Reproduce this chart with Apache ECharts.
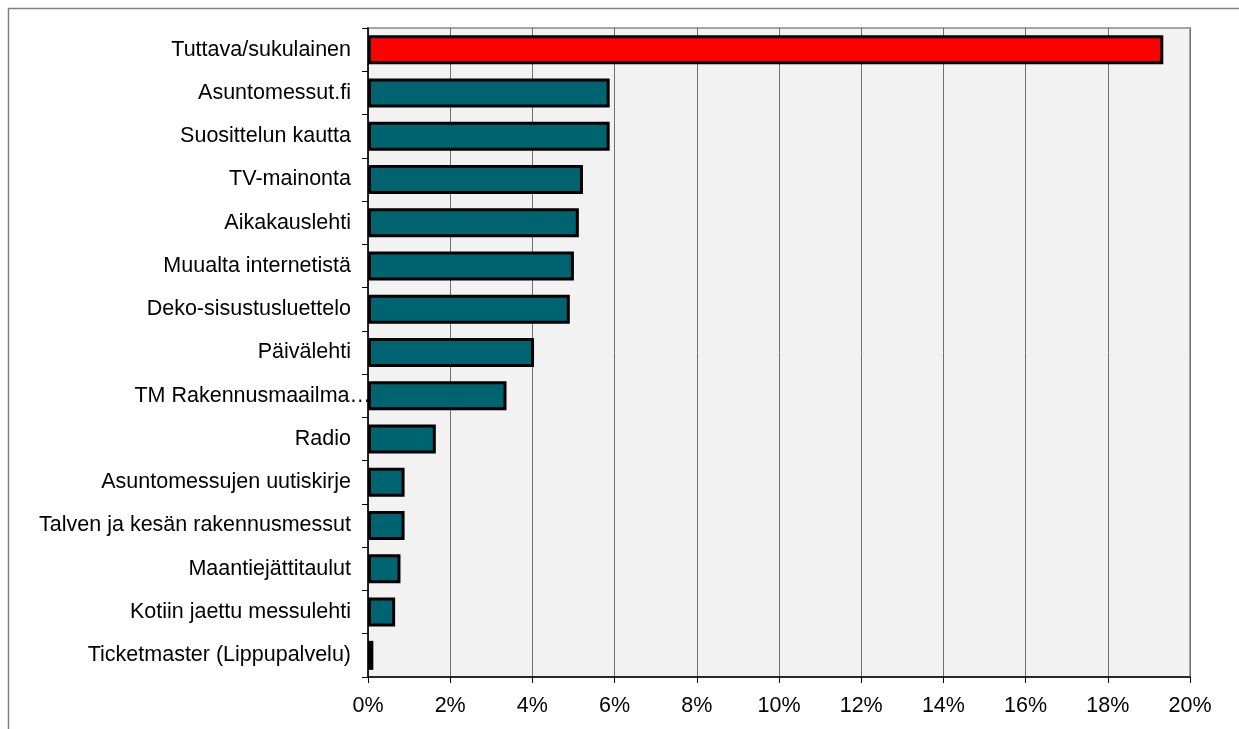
<!DOCTYPE html>
<html>
<head>
<meta charset="utf-8">
<script src="https://cdn.jsdelivr.net/npm/echarts@6/dist/echarts.min.js"></script>
<style>
  html, body { margin: 0; padding: 0; background: #fff; }
  #chart { width: 1239px; height: 729px; }
</style>
</head>
<body>
<div id="chart"></div>
<script>
// kategoriat ylhäältä alas
const categories = [
    'Tuttava/sukulainen',
    'Asuntomessut.fi',
    'Suosittelun kautta',
    'TV-mainonta',
    'Aikakauslehti',
    'Muualta internetistä',
    'Deko-sisustusluettelo',
    'Päivälehti',
    'TM Rakennusmaailma…',
    'Radio',
    'Asuntomessujen uutiskirje',
    'Talven ja kesän rakennusmessut',
    'Maantiejättitaulut',
    'Kotiin jaettu messulehti',
    'Ticketmaster (Lippupalvelu)'
];

// osuudet prosentteina
const shares = [19.35, 5.88, 5.88, 5.23, 5.13, 5.01, 4.91, 4.04, 3.37, 1.65, 0.89, 0.89, 0.79, 0.66, 0.13];

const xTicks = { min: 0, max: 20, interval: 2 };

const highlightIndex = 0;
// tämä otsikko valuu alkuperäisessä akselin yli
const overflowIndex = 8;

const myChart = echarts.init(document.getElementById('chart'));

const seriesData = shares.map((v, i) => ({
    value: v,
    itemStyle: { color: i === highlightIndex ? '#ff0000' : '#006370' }
}));

const yData = categories.map((c, i) => i === overflowIndex
    ? { value: c, textStyle: { padding: [0, -20, 0, 0] } }
    : c);

const options = {
    animation: false,
    textStyle: { fontFamily: 'Liberation Sans, Arial, sans-serif' },
    graphic: [{
        type: 'polyline',
        silent: true,
        shape: { points: [[8.5, 729], [8.5, 8.5], [1239, 8.5]] },
        style: { stroke: '#808080', lineWidth: 1.5, fill: null }
    }],
    grid: {
        left: 368,
        right: 49,
        top: 28,
        bottom: 52,
        show: true,
        backgroundColor: '#f2f2f2',
        borderColor: '#a6a6a6',
        borderWidth: 2
    },
    xAxis: {
        type: 'value',
        min: xTicks.min,
        max: xTicks.max,
        interval: xTicks.interval,
        axisLine: { show: true, lineStyle: { color: '#000', width: 1.5 } },
        axisTick: { show: true, length: 6, lineStyle: { color: '#000' } },
        axisLabel: {
            formatter: '{value}%',
            color: '#000',
            fontSize: 21.5,
            margin: 18
        },
        splitLine: { show: true, lineStyle: { color: '#707070', width: 1 } }
    },
    yAxis: {
        type: 'category',
        inverse: true,
        data: yData,
        axisLine: { show: true, lineStyle: { color: '#000', width: 1.5 } },
        axisTick: { show: true, length: 6, alignWithLabel: false, lineStyle: { color: '#000' } },
        axisLabel: {
            color: '#000',
            fontSize: 21.5,
            margin: 17
        },
        splitLine: { show: false }
    },
    series: [{
        type: 'bar',
        data: seriesData,
        barWidth: 29,
        itemStyle: { borderColor: '#000', borderWidth: 3 }
    }]
};

myChart.setOption(options, true);
</script>
</body>
</html>
